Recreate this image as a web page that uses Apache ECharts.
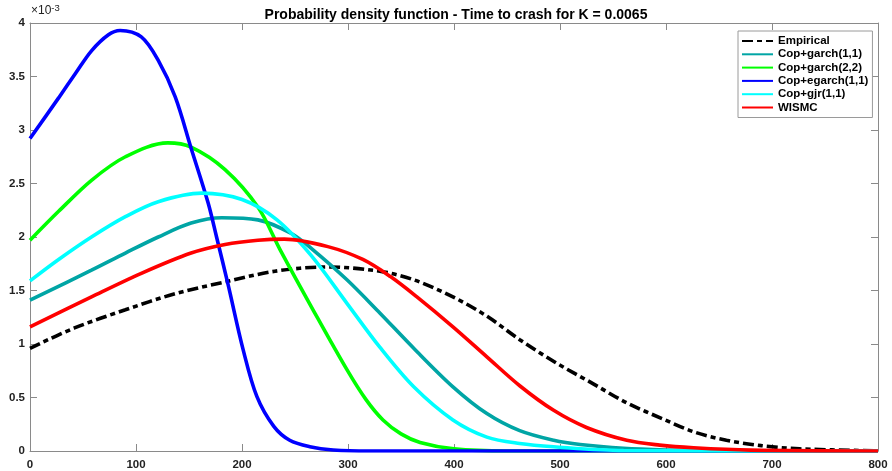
<!DOCTYPE html>
<html>
<head>
<meta charset="utf-8">
<title>Time to crash PDF</title>
<script src="https://cdn.jsdelivr.net/npm/echarts@6/dist/echarts.min.js"></script>
<style>
    html, body { margin: 0; padding: 0; background: #fff; }
    #chart { width: 892px; height: 471px; }
</style>
</head>
<body>
<div id="chart"></div>
<script>
// points: time to crash (x) and density in units of 1e-3 (y)
const empiricalX = [0, 42, 90, 137, 184, 231, 280, 330, 362, 399, 431, 462, 497, 531, 563, 597, 626, 657, 690, 726, 800]
const empiricalY = [0.96, 1.15, 1.32, 1.47, 1.58, 1.68, 1.72, 1.68, 1.60, 1.44, 1.26, 1.04, 0.82, 0.63, 0.45, 0.30, 0.18, 0.10, 0.05, 0.02, 0.002]

const garch11X = [0, 58, 90, 121, 152, 181, 215, 247, 267, 299, 330, 362, 399, 431, 462, 494, 519, 560, 600, 650, 800]
const garch11Y = [1.41, 1.69, 1.85, 2.00, 2.13, 2.18, 2.16, 2.03, 1.88, 1.60, 1.29, 0.96, 0.60, 0.35, 0.19, 0.10, 0.06, 0.025, 0.01, 0.002, 0]

const garch22X = [0, 27, 58, 90, 130, 152, 184, 215, 236, 267, 299, 317, 333, 350, 368, 400, 450, 800]
const garch22Y = [1.97, 2.24, 2.53, 2.75, 2.88, 2.84, 2.63, 2.28, 1.88, 1.32, 0.76, 0.48, 0.29, 0.16, 0.08, 0.02, 0, 0]

const egarch11X = [0, 27, 43, 58, 74, 85, 105, 121, 137, 152, 168, 176, 187, 201, 214, 230, 245, 264, 286, 320, 800]
const egarch11Y = [2.92, 3.30, 3.53, 3.74, 3.89, 3.93, 3.87, 3.65, 3.31, 2.83, 2.32, 2.00, 1.55, 0.95, 0.51, 0.23, 0.10, 0.04, 0.01, 0, 0]

const gjr11X = [0, 27, 58, 90, 121, 162, 200, 233, 265, 299, 330, 362, 399, 431, 462, 494, 560, 800]
const gjr11Y = [1.59, 1.79, 2.00, 2.19, 2.33, 2.41, 2.35, 2.16, 1.83, 1.38, 0.97, 0.60, 0.29, 0.13, 0.07, 0.04, 0.005, 0]

const wismcX = [0, 58, 105, 152, 184, 215, 240, 281, 314, 340, 365, 399, 431, 462, 494, 525, 563, 594, 626, 680, 800]
const wismcY = [1.16, 1.44, 1.66, 1.85, 1.93, 1.97, 1.98, 1.91, 1.79, 1.63, 1.44, 1.16, 0.88, 0.61, 0.38, 0.22, 0.10, 0.055, 0.03, 0.008, 0]

const seriesNames = ['Empirical', 'Cop+garch(1,1)', 'Cop+garch(2,2)', 'Cop+egarch(1,1)', 'Cop+gjr(1,1)', 'WISMC']
const seriesX = [empiricalX, garch11X, garch22X, egarch11X, gjr11X, wismcX]
const seriesY = [empiricalY, garch11Y, garch22Y, egarch11Y, gjr11Y, wismcY]
const seriesColors = ['#000000', '#00a5a5', '#00ff00', '#0000ff', '#00ffff', '#ff0000']

const FONT = 'Liberation Sans, Arial, Helvetica, sans-serif'
const AXIS_GREY = '#8a8a8a'

const chart = echarts.init(document.getElementById('chart'), null, { renderer: 'canvas' })

const series = seriesNames.map((name, i) => ({
    name: name,
    type: 'line',
    data: seriesX[i].map((t, j) => [t, seriesY[i][j]]),
    showSymbol: false,
    symbol: 'none',
    // 0.33 左右接近 Catmull-Rom，曲线不会抖
    smooth: 0.33,
    lineStyle: {
        color: seriesColors[i],
        width: 3.6,
        // 经验分布用点划线
        type: i === 0 ? [11, 4, 5, 4] : 'solid'
    },
    itemStyle: { color: seriesColors[i] },
    emphasis: { disabled: true },
    z: 2 + i
}))

const boxAxis = {
    axisLine: { show: true, onZero: false, lineStyle: { color: AXIS_GREY, width: 1 } },
    axisTick: { show: true, inside: true, length: 7, lineStyle: { color: AXIS_GREY } },
    splitLine: { show: false }
}

const option = {
    animation: false,
    backgroundColor: '#ffffff',
    title: {
        text: 'Probability density function - Time to crash for K = 0.0065',
        left: 451,
        textAlign: 'center',
        top: 3,
        textStyle: { fontFamily: FONT, fontSize: 14, fontWeight: 'bold', color: '#000' }
    },
    legend: {
        orient: 'vertical',
        left: 738,
        top: 31,
        padding: [4, 4, 4, 3],
        itemGap: 1.3,
        itemWidth: 31,
        itemHeight: 10,
        backgroundColor: '#ffffff',
        borderColor: '#9a9a9a',
        borderWidth: 1,
        borderRadius: 0,
        selectedMode: false,
        data: seriesNames,
        // 图例只显示线段，不显示圆点
        itemStyle: { opacity: 0 },
        textStyle: { fontFamily: FONT, fontSize: 11.5, fontWeight: 'bold', color: '#000', lineHeight: 12 }
    },
    graphic: [
        {
            type: 'text',
            left: 31,
            top: 3,
            style: {
                text: '×10{sup|-3}',
                font: '12px ' + FONT,
                fill: '#222',
                rich: {
                    sup: { fontSize: 9.5, fontFamily: FONT, fill: '#222', verticalAlign: 'top', padding: [0, 0, 6, 0] }
                }
            }
        }
    ],
    grid: { left: 30, right: 14, top: 23, bottom: 20, containLabel: false },
    xAxis: [
        Object.assign({
            type: 'value',
            min: 0,
            max: 800,
            interval: 100,
            position: 'bottom',
            axisLabel: { fontFamily: FONT, fontSize: 11.5, fontWeight: 'bold', color: '#222', margin: 8 }
        }, boxAxis),
        Object.assign({
            type: 'value',
            min: 0,
            max: 800,
            interval: 100,
            position: 'top',
            axisLabel: { show: false }
        }, boxAxis)
    ],
    yAxis: [
        Object.assign({
            type: 'value',
            min: 0,
            max: 4,
            interval: 0.5,
            position: 'left',
            axisLabel: { fontFamily: FONT, fontSize: 11.5, fontWeight: 'bold', color: '#222', margin: 5 }
        }, boxAxis),
        Object.assign({
            type: 'value',
            min: 0,
            max: 4,
            interval: 0.5,
            position: 'right',
            axisLabel: { show: false }
        }, boxAxis)
    ],
    series: series
}

chart.setOption(option)
</script>
</body>
</html>
